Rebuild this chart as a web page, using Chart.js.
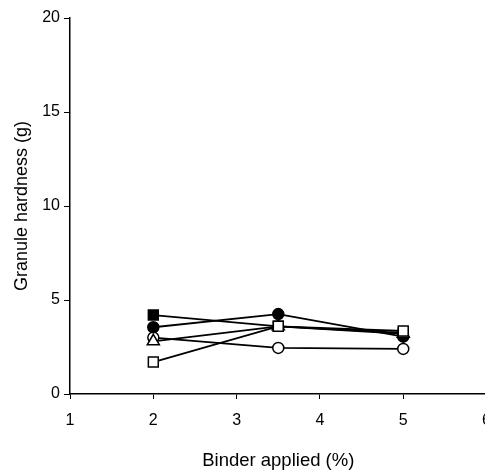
<!DOCTYPE html>
<html>
<head>
<meta charset="utf-8">
<script src="https://cdn.jsdelivr.net/npm/chart.js@4"></script>
<style>
  html, body { margin: 0; padding: 0; background: #fff; overflow: hidden; }
  #wrap { position: relative; width: 503px; height: 472px; }
</style>
</head>
<body>
<div id="wrap"><canvas id="c" width="503" height="472"></canvas></div>
<script>
const binderApplied = [2, 3.5, 5];
const filledSquare = [4.2, 3.6, 3.25];
const filledCircle = [3.55, 4.25, 3.05];
const openCircle = [3.0, 2.45, 2.4];
const openTriangle = [2.8, 3.6, 3.2];
const openSquare = [1.7, 3.6, 3.35];
const xTicks = [1, 2, 3, 4, 5, 6];
const yTicks = [0, 5, 10, 15, 20];

function pts(vals) { return vals.map((v, i) => ({ x: binderApplied[i], y: v })); }
function ds(vals, style, filled, r) {
  return {
    data: pts(vals),
    borderColor: '#000',
    borderWidth: 1.8,
    pointStyle: style,
    pointRadius: r,
    pointBorderWidth: 1.5,
    pointBorderColor: '#000',
    pointBackgroundColor: filled ? '#000' : '#fff',
    tension: 0
  };
}

const font = { family: '"Liberation Sans", Arial, sans-serif' };

new Chart(document.getElementById('c'), {
  type: 'line',
  data: {
    datasets: [
      ds(openSquare, 'rect', false, 7),
      ds(openTriangle, 'triangle', false, 7),
      ds(filledSquare, 'rect', true, 7),
      ds(filledCircle, 'circle', true, 5.5),
      ds(openCircle, 'circle', false, 5.5)
    ]
  },
  options: {
    responsive: false,
    animation: false,
    layout: { padding: { top: 18, right: 0, left: 0, bottom: 0 } },
    plugins: { legend: { display: false }, tooltip: { enabled: false } },
    scales: {
      x: {
        type: 'linear',
        min: 1, max: 6,
        afterBuildTicks: s => { s.ticks = xTicks.map(v => ({ value: v })); },
        afterFit: s => { s.height = 78; },
        grid: { display: true, drawOnChartArea: false, drawTicks: true, tickLength: 5, color: '#000', lineWidth: 1 },
        border: { display: true, color: '#000', width: 1.5 },
        ticks: { color: '#000', font: { ...font, size: 16 }, padding: 12, maxRotation: 0 },
        title: { display: true, text: 'Binder applied (%)', color: '#000', font: { ...font, size: 18.5 }, padding: { top: 0, bottom: 0 } }
      },
      y: {
        type: 'linear',
        min: 0, max: 20,
        afterBuildTicks: s => { s.ticks = yTicks.map(v => ({ value: v })); },
        afterFit: s => { s.width = 70; },
        grid: { display: true, drawOnChartArea: false, drawTicks: true, tickLength: 6, color: '#000', lineWidth: 1 },
        border: { display: true, color: '#000', width: 1.5 },
        ticks: { color: '#000', font: { ...font, size: 16 }, padding: 4 },
        title: { display: true, text: 'Granule hardness (g)', color: '#000', font: { ...font, size: 18 }, padding: { top: 11, bottom: 0 } }
      }
    }
  }
});
</script>
</body>
</html>
